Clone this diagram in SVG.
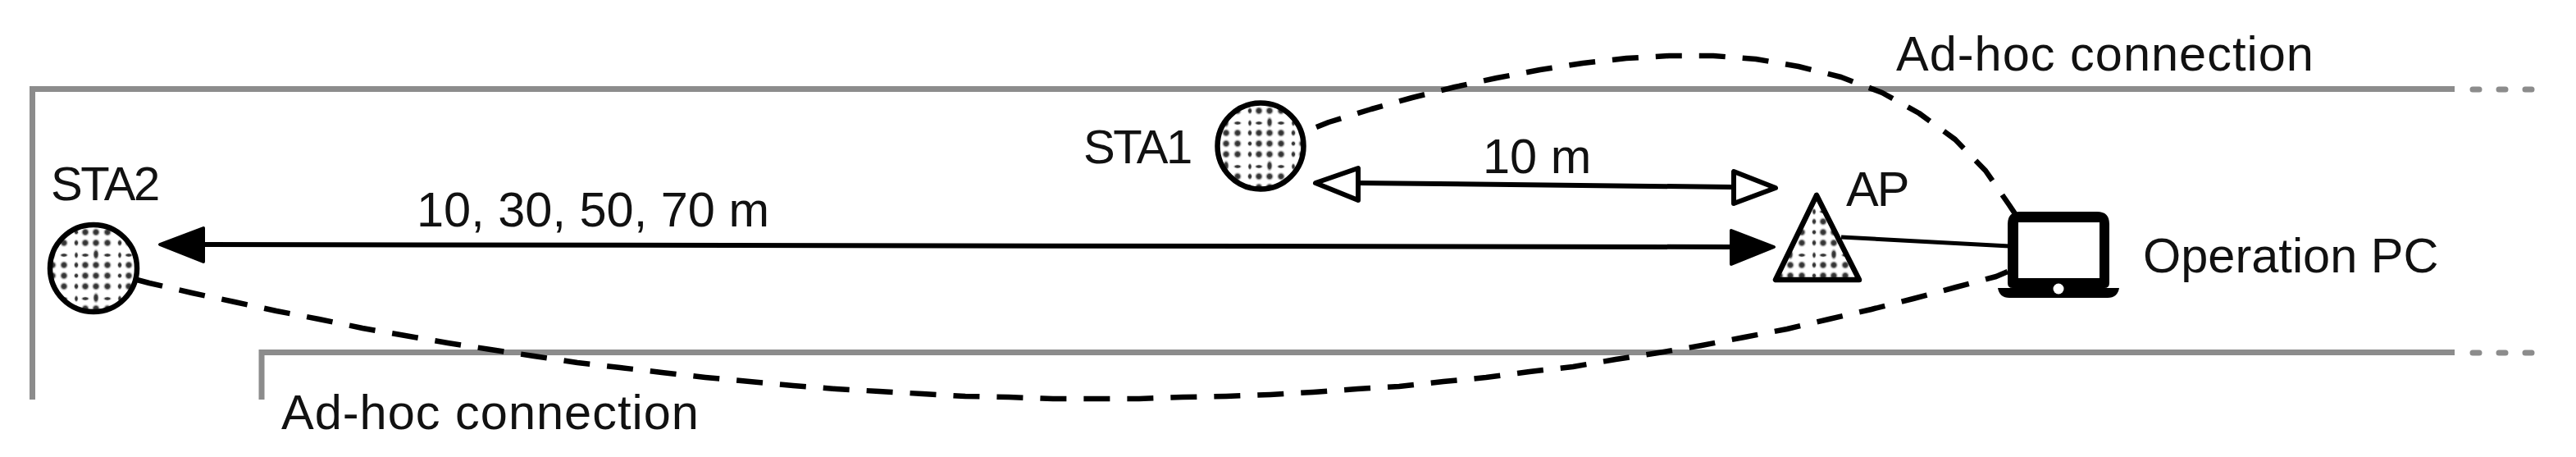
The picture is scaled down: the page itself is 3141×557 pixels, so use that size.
<svg xmlns="http://www.w3.org/2000/svg" width="3141" height="557" viewBox="0 0 3141 557">
<style>
text{font-family:"Liberation Sans",Arial,sans-serif;font-size:59.5px;fill:#111}
.sta{font-size:58px;letter-spacing:-2.5px}
.wall{fill:none;stroke:#8c8c8c;stroke-width:7}
.wdash{fill:none;stroke:#8c8c8c;stroke-width:7;stroke-linecap:round}
.dash{fill:none;stroke:#000;stroke-width:6.5;stroke-dasharray:32 21;stroke-linejoin:round}
.solid{fill:none;stroke:#000;stroke-width:6}
.shape{stroke:#000;stroke-width:6.5;stroke-linejoin:round}
.open{fill:#fff;stroke:#000;stroke-width:6;stroke-linejoin:round}
.full{fill:#000;stroke:#000;stroke-width:4;stroke-linejoin:round}
.adhoc{letter-spacing:1px}
</style>
<defs>
<radialGradient id="dot"><stop offset="0" stop-color="#2a2a2a"/><stop offset=".45" stop-color="#444"/><stop offset="1" stop-color="#fff" stop-opacity="0"/></radialGradient>
<pattern id="dots" width="53" height="53" patternUnits="userSpaceOnUse" x="93" y="311">
<rect width="53" height="53" fill="#fff"/>
<g fill="url(#dot)">
<circle cx="11" cy="12" r="6"/><circle cx="24" cy="12" r="6"/><circle cx="38" cy="12" r="6"/>
<circle cx="11" cy="25" r="6"/><circle cx="24" cy="25" r="6"/><circle cx="38" cy="25" r="6"/>
<circle cx="11" cy="38" r="6"/><circle cx="24" cy="38" r="6"/><circle cx="38" cy="38" r="6"/>
<ellipse cx="0" cy="12" rx="3.5" ry="5"/><ellipse cx="0" cy="25" rx="3.5" ry="4"/><ellipse cx="0" cy="38" rx="3.5" ry="5"/>
<ellipse cx="53" cy="12" rx="3.5" ry="5"/><ellipse cx="53" cy="25" rx="3.5" ry="4"/><ellipse cx="53" cy="38" rx="3.5" ry="5"/>
<ellipse cx="11" cy="0" rx="6" ry="3"/><ellipse cx="38" cy="0" rx="6" ry="3"/><ellipse cx="24" cy="-1" rx="4.5" ry="8"/>
<ellipse cx="11" cy="53" rx="6" ry="3"/><ellipse cx="38" cy="53" rx="6" ry="3"/><ellipse cx="24" cy="52" rx="4.5" ry="8"/>
<ellipse cx="0" cy="0" rx="3" ry="5"/><ellipse cx="53" cy="0" rx="3" ry="5"/><ellipse cx="0" cy="53" rx="3" ry="5"/><ellipse cx="53" cy="53" rx="3" ry="5"/>
</g>
</pattern>
<pattern id="dots1" href="#dots" x="1524" y="150"/>
<pattern id="dots2" href="#dots" x="2212" y="258"/>
</defs>
<rect width="3141" height="557" fill="#fff"/>
<g id="walls">
<path class="wall" d="M39.5 487V108.5H2993"/>
<path class="wall" d="M319 487V429.5H2993"/>
<path class="wdash" d="M3015 109h8M3047 109h8M3079 109h8M3015 430h8M3047 430h8M3079 430h8"/>
</g>
<g id="connectors">
<path class="dash" d="M1605 155L1620 149L1672 133L1722 119L1774 106L1825 95L1878 85L1930 77L1983 71L2035 68L2089 68L2141 72L2193 81L2245 94L2295 113L2340 138L2384 170L2421 208L2450 250L2458 262"/>
<path class="dash" d="M167 341L182 345L234 357L286 368L337 379L389 389L442 400L494 409L546 418L598 426L651 434L704 442L756 448L807 454L860 460L914 465L967 470L1019 474L1072 477L1125 480L1177 483L1230 484L1284 486L1337 486L1389 486L1442 484L1495 483L1549 481L1601 478L1655 474L1706 471L1760 465L1812 460L1865 453L1918 447L1970 438L2022 430L2075 421L2127 411L2179 401L2230 389L2282 377L2333 364L2385 350L2434 337L2448 331"/>
<path class="solid" d="M249 298L2110 301"/>
<path class="solid" d="M1656 223L2112 228"/>
<path class="solid" style="stroke-width:5" d="M2245 289L2450 300"/>
<path class="full" d="M195 298L248 278V319Z"/>
<path class="full" d="M2163 301L2111 281V322Z"/>
<path class="open" d="M1604 223L1656 205V244Z"/>
<path class="open" d="M2165 229L2114 209V248Z"/>
</g>
<g id="sta2"><circle class="shape" fill="url(#dots)" cx="114" cy="327" r="53"/><text class="sta" x="62" y="244">STA2</text></g>
<g id="sta1"><circle class="shape" fill="url(#dots1)" cx="1537" cy="178" r="52.5"/><text class="sta" x="1321" y="199">STA1</text></g>
<g id="ap"><path class="shape" fill="url(#dots2)" d="M2215 238L2165 341H2267Z"/><text x="2251" y="251" style="letter-spacing:-2px">AP</text></g>
<g id="pc">
<path d="M2463 258H2557Q2572 258 2572 273V345Q2572 351 2566 351H2584Q2582 363 2570 363H2450Q2438 363 2436 351H2454Q2448 351 2448 345V273Q2448 258 2463 258Z" fill="#000"/>
<rect x="2461" y="271" width="99" height="68" fill="#fff"/>
<circle cx="2510" cy="352" r="6.5" fill="#fff"/>
<text x="2613" y="332">Operation PC</text>
</g>
<text id="label-top" class="adhoc" x="2312" y="86">Ad-hoc connection</text>
<text id="label-bottom" class="adhoc" x="343" y="523">Ad-hoc connection</text>
<text id="label-10m" x="1808" y="211">10 m</text>
<text id="label-range" x="508" y="276">10, 30, 50, 70 m</text>
</svg>
